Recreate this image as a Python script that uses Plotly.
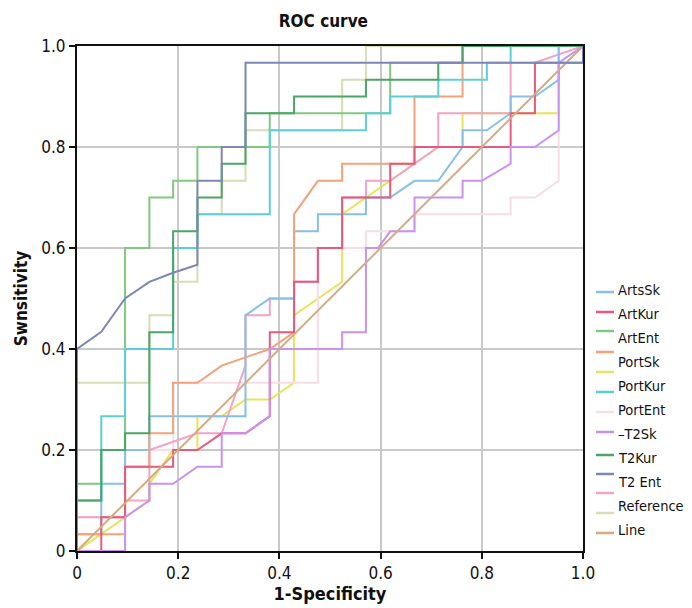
import plotly.graph_objects as go

# ---------------- data ----------------
art_sk_x = [0, 0, 0.048, 0.048, 0.095, 0.095, 0.143, 0.143, 0.333, 0.333, 0.381, 0.429, 0.429, 0.476, 0.476, 0.571, 0.571, 0.619, 0.667, 0.714, 0.762, 0.762, 0.810, 0.857, 0.857, 0.905, 0.952, 0.952, 1.0]
art_sk_y = [0, 0.033, 0.033, 0.133, 0.133, 0.2, 0.2, 0.267, 0.267, 0.467, 0.5, 0.5, 0.633, 0.633, 0.667, 0.667, 0.7, 0.7, 0.733, 0.733, 0.8, 0.833, 0.833, 0.867, 0.9, 0.9, 0.933, 1.0, 1.0]

art_kur_x = [0, 0.048, 0.048, 0.095, 0.095, 0.190, 0.190, 0.238, 0.286, 0.333, 0.381, 0.381, 0.429, 0.429, 0.476, 0.476, 0.524, 0.524, 0.619, 0.619, 0.667, 0.667, 0.857, 0.857, 0.905, 0.905, 1.0, 1.0]
art_kur_y = [0, 0, 0.067, 0.067, 0.167, 0.167, 0.2, 0.2, 0.233, 0.233, 0.267, 0.433, 0.433, 0.533, 0.533, 0.6, 0.6, 0.7, 0.7, 0.767, 0.767, 0.8, 0.8, 0.867, 0.867, 0.967, 0.967, 1.0]

art_ent_x = [0, 0, 0.048, 0.048, 0.095, 0.095, 0.143, 0.143, 0.190, 0.190, 0.238, 0.238, 0.381, 0.381, 0.619, 0.619, 0.762, 0.762, 1.0]
art_ent_y = [0, 0.133, 0.133, 0.2, 0.2, 0.6, 0.6, 0.7, 0.7, 0.733, 0.733, 0.8, 0.8, 0.867, 0.867, 0.967, 0.967, 1.0, 1.0]

port_sk_x = [0, 0, 0.095, 0.095, 0.143, 0.143, 0.190, 0.190, 0.238, 0.286, 0.381, 0.429, 0.429, 0.476, 0.524, 0.524, 0.667, 0.667, 0.762, 0.762, 1.0]
port_sk_y = [0, 0.033, 0.033, 0.167, 0.167, 0.233, 0.233, 0.333, 0.333, 0.367, 0.4, 0.433, 0.667, 0.733, 0.733, 0.767, 0.767, 0.9, 0.9, 1.0, 1.0]

port_kur_x = [0, 0, 0.048, 0.048, 0.095, 0.095, 0.190, 0.190, 0.238, 0.238, 0.381, 0.381, 0.571, 0.571, 0.619, 0.619, 0.714, 0.714, 0.810, 0.810, 0.857, 0.857, 1.0]
port_kur_y = [0, 0.1, 0.1, 0.267, 0.267, 0.4, 0.4, 0.6, 0.6, 0.667, 0.667, 0.833, 0.833, 0.867, 0.867, 0.9, 0.9, 0.933, 0.933, 0.967, 0.967, 1.0, 1.0]

port_ent_x = [0, 0, 0.095, 0.095, 0.190, 0.190, 0.476, 0.476, 0.571, 0.571, 0.667, 0.667, 0.857, 0.857, 0.905, 0.952, 0.952, 1.0]
port_ent_y = [0, 0.067, 0.067, 0.2, 0.2, 0.333, 0.333, 0.6, 0.6, 0.633, 0.633, 0.667, 0.667, 0.7, 0.7, 0.733, 1.0, 1.0]

t2_sk_x = [0, 0.095, 0.095, 0.143, 0.143, 0.190, 0.238, 0.286, 0.286, 0.333, 0.381, 0.381, 0.524, 0.524, 0.571, 0.571, 0.595, 0.619, 0.667, 0.667, 0.762, 0.762, 0.800, 0.857, 0.857, 0.905, 0.952, 0.952, 1.0]
t2_sk_y = [0, 0, 0.067, 0.1, 0.133, 0.133, 0.167, 0.167, 0.233, 0.233, 0.267, 0.4, 0.4, 0.433, 0.433, 0.6, 0.6, 0.633, 0.633, 0.7, 0.7, 0.733, 0.733, 0.767, 0.8, 0.8, 0.833, 0.967, 1.0]

t2_kur_x = [0, 0, 0.048, 0.048, 0.095, 0.095, 0.143, 0.143, 0.190, 0.190, 0.238, 0.238, 0.286, 0.286, 0.333, 0.333, 0.429, 0.429, 0.571, 0.571, 0.714, 0.714, 0.762, 0.762, 1.0]
t2_kur_y = [0, 0.1, 0.1, 0.2, 0.2, 0.233, 0.233, 0.433, 0.433, 0.633, 0.633, 0.7, 0.7, 0.767, 0.767, 0.867, 0.867, 0.9, 0.9, 0.933, 0.933, 0.967, 0.967, 1.0, 1.0]

t2_ent_x = [0, 0, 0.048, 0.095, 0.143, 0.190, 0.238, 0.238, 0.286, 0.286, 0.333, 0.333, 1.0, 1.0]
t2_ent_y = [0, 0.4, 0.434, 0.5, 0.533, 0.551, 0.567, 0.733, 0.733, 0.8, 0.8, 0.967, 0.967, 1.0]

reference_x = [0, 0, 0.095, 0.095, 0.143, 0.143, 0.238, 0.286, 0.333, 0.333, 0.381, 0.381, 0.429, 0.429, 0.476, 0.476, 0.524, 0.524, 0.571, 0.571, 0.619, 0.714, 0.714, 0.857, 0.857, 0.905, 1.0]
reference_y = [0, 0.067, 0.067, 0.1, 0.1, 0.2, 0.233, 0.233, 0.367, 0.467, 0.467, 0.5, 0.5, 0.533, 0.533, 0.6, 0.6, 0.7, 0.7, 0.733, 0.733, 0.8, 0.867, 0.867, 0.967, 0.967, 1.0]

# two further curves drawn in the figure without their own legend text
extra_yellow_x = [0, 0.095, 0.143, 0.143, 0.190, 0.238, 0.238, 0.286, 0.333, 0.381, 0.429, 0.429, 0.524, 0.524, 0.571, 0.714, 0.762, 0.762, 0.952, 0.952, 1.0]
extra_yellow_y = [0, 0.067, 0.1, 0.133, 0.2, 0.2, 0.267, 0.267, 0.3, 0.3, 0.333, 0.467, 0.533, 0.667, 0.7, 0.8, 0.8, 0.867, 0.867, 1.0, 1.0]

extra_khaki_x = [0, 0, 0.143, 0.143, 0.190, 0.190, 0.238, 0.238, 0.286, 0.286, 0.333, 0.333, 0.524, 0.524, 0.571, 0.571, 1.0]
extra_khaki_y = [0, 0.333, 0.333, 0.467, 0.467, 0.533, 0.533, 0.667, 0.667, 0.733, 0.733, 0.833, 0.833, 0.933, 0.933, 1.0, 1.0]

line_x = [0, 1]
line_y = [0, 1]

legend_labels = ["ArtsSk", "ArtKur", "ArtEnt", "PortSk", "PortKur", "PortEnt",
                 "\u2013T2Sk", "T2Kur", "T2 Ent", "Reference", "Line"]

tick_vals = [0, 0.2, 0.4, 0.6, 0.8, 1.0]
tick_text = ["0", "0.2", "0.4", "0.6", "0.8", "1.0"]

# ---------------- figure ----------------
FONT = "DejaVu Sans Condensed, Liberation Sans Narrow, Arial Narrow, sans-serif"

# (name, x, y, colour, key-sample y position in pixels from the page top)
series = [
    ("extra khaki", extra_khaki_x, extra_khaki_y, "#d9dcb4", 513),
    ("extra yellow", extra_yellow_x, extra_yellow_y, "#e8e35a", 372),
    ("PortEnt", port_ent_x, port_ent_y, "#f7dde6", 412),
    ("Reference", reference_x, reference_y, "#f2a3c6", 493),
    ("ArtsSk", art_sk_x, art_sk_y, "#86c0e6", 292),
    ("PortSk", port_sk_x, port_sk_y, "#f3a27a", 352),
    ("ArtKur", art_kur_x, art_kur_y, "#e65a7c", 312),
    ("\u2013T2Sk", t2_sk_x, t2_sk_y, "#c992ee", 432),
    ("Line", line_x, line_y, "#d4aa80", 533),
    ("ArtEnt", art_ent_x, art_ent_y, "#82c882", 331),
    ("PortKur", port_kur_x, port_kur_y, "#5ccfd6", 392),
    ("T2Kur", t2_kur_x, t2_kur_y, "#4ba564", 455),
    ("T2 Ent", t2_ent_x, t2_ent_y, "#7d87b3", 474),
]

fig = go.Figure()
for name, xs, ys, color, _ in series:
    fig.add_trace(go.Scatter(
        x=xs, y=ys, mode="lines", name=name, showlegend=False,
        line=dict(color=color, width=2),
        hoverinfo="skip",
    ))

# plot area in page pixels (page has an 8 px body margin)
PX_L, PX_R, PX_T, PX_B = 77.0, 583.0, 46.0, 551.0
def px_to_paper_x(px):
    return (px - PX_L) / (PX_R - PX_L)
def px_to_paper_y(py):
    return (PX_B - py) / (PX_B - PX_T)

# key: short line samples and the legend texts
shapes = []
for name, xs, ys, color, key_y in series:
    shapes.append(dict(
        type="line", xref="paper", yref="paper",
        x0=px_to_paper_x(596), x1=px_to_paper_x(614),
        y0=px_to_paper_y(key_y), y1=px_to_paper_y(key_y),
        line=dict(color=color, width=2.5),
    ))

annotations = []
for i, label in enumerate(legend_labels):
    annotations.append(dict(
        text=label, xref="paper", yref="paper",
        x=px_to_paper_x(616), y=px_to_paper_y(290 + 24 * i),
        xanchor="left", yanchor="middle", showarrow=False,
        font=dict(family=FONT, size=14.5, color="#111111"),
    ))

axis_common = dict(
    range=[0, 1],
    tickvals=tick_vals,
    ticktext=tick_text,
    showgrid=True,
    gridcolor="#c9c9c9",
    gridwidth=1.5,
    zeroline=False,
    showline=True,
    linecolor="#111111",
    linewidth=2,
    mirror=True,
    ticks="outside",
    ticklen=6,
    tickwidth=1.5,
    tickcolor="#111111",
    automargin=False,
    tickfont=dict(family=FONT, size=17, color="#111111"),
)

fig.update_layout(
    width=684,
    height=600,
    margin=dict(l=69, r=109, t=38, b=57, autoexpand=False),
    paper_bgcolor="white",
    plot_bgcolor="white",
    title=dict(text="<b>ROC curve</b>", x=0.487, xref="paper", y=0.979, yref="container",
               xanchor="center", yanchor="middle",
               font=dict(family=FONT, size=17, color="#111111")),
    xaxis=dict(axis_common, title=dict(text="<b>1-Specificity</b>", standoff=1,
                                       font=dict(family=FONT, size=18, color="#111111"))),
    yaxis=dict(axis_common, title=dict(text="<b>Swnsitivity</b>", standoff=9,
                                       font=dict(family=FONT, size=17, color="#111111"))),
    shapes=shapes,
    annotations=annotations,
    showlegend=False,
)

fig.write_html("out.html")
